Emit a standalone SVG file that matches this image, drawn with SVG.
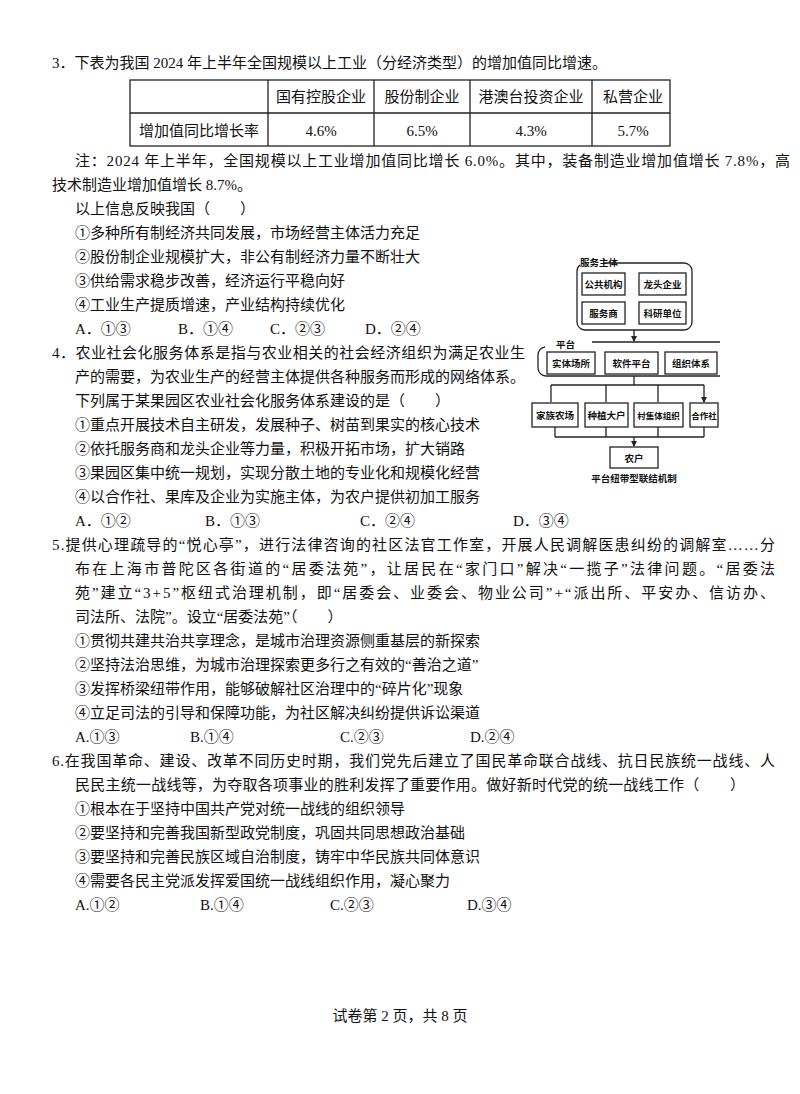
<svg xmlns="http://www.w3.org/2000/svg" width="800" height="1094" viewBox="0 0 800 1094">
<style>
text{font-family:"Liberation Serif","Noto Sans CJK SC",serif;font-size:15px;fill:#111}
.s{font-size:9.5px;font-weight:bold;font-family:"Noto Sans CJK SC",sans-serif}
.b{fill:none;stroke:#222;stroke-width:1.3}
.m{text-anchor:middle}
</style>
<defs><marker id="ar" viewBox="0 0 6 6" refX="5" refY="3" markerWidth="5" markerHeight="5" orient="auto"><path d="M0,0L6,3L0,6z" fill="#222"/></marker></defs>
<rect width="800" height="1094" fill="#fff"/>
<text x="52" y="68">3．下表为我国 2024 年上半年全国规模以上工业（分经济类型）的增加值同比增速。</text>
<g id="table">
<rect x="130" y="80" width="540" height="66" class="b"/>
<path d="M130,113H670M268,80V146M374,80V146M470,80V146M592,80V146" class="b"/>
<text x="321" y="102" class="m">国有控股企业</text><text x="422" y="102" class="m">股份制企业</text><text x="531" y="102" class="m">港澳台投资企业</text><text x="633" y="102" class="m">私营企业</text>
<text x="199" y="136" class="m">增加值同比增长率</text><text x="321" y="136" class="m">4.6%</text><text x="422" y="136" class="m">6.5%</text><text x="531" y="136" class="m">4.3%</text><text x="633" y="136" class="m">5.7%</text>
</g>
<text x="75" y="166" textLength="715">注：2024 年上半年，全国规模以上工业增加值同比增长 6.0%。其中，装备制造业增加值增长 7.8%，高</text>
<text x="52" y="190">技术制造业增加值增长 8.7%。</text>
<text x="75" y="214">以上信息反映我国（　　）</text>
<text x="75" y="238">①多种所有制经济共同发展，市场经营主体活力充足</text>
<text x="75" y="262">②股份制企业规模扩大，非公有制经济力量不断壮大</text>
<text x="75" y="286">③供给需求稳步改善，经济运行平稳向好</text>
<text x="75" y="310">④工业生产提质增速，产业结构持续优化</text>
<text x="75" y="334">A．①③</text><text x="178" y="334">B．①④</text><text x="270" y="334">C．②③</text><text x="365" y="334">D．②④</text>
<text x="52" y="358" textLength="473">4．农业社会化服务体系是指与农业相关的社会经济组织为满足农业生</text>
<text x="75" y="382" textLength="450">产的需要，为农业生产的经营主体提供各种服务而形成的网络体系。</text>
<text x="75" y="406">下列属于某果园区农业社会化服务体系建设的是（　　）</text>
<text x="75" y="430">①重点开展技术自主研发，发展种子、树苗到果实的核心技术</text>
<text x="75" y="454">②依托服务商和龙头企业等力量，积极开拓市场，扩大销路</text>
<text x="75" y="478">③果园区集中统一规划，实现分散土地的专业化和规模化经营</text>
<text x="75" y="502">④以合作社、果库及企业为实施主体，为农户提供初加工服务</text>
<text x="75" y="526">A．①②</text><text x="205" y="526">B．①③</text><text x="360" y="526">C．②④</text><text x="513" y="526">D．③④</text>
<g id="diagram">
<text x="580" y="266" class="s">服务主体</text>
<path d="M604,263H684a8,8 0 0 1 8,8V322a8,8 0 0 1-8,8H585a8,8 0 0 1-8-8V271a8,8 0 0 1 3-6" class="b"/>
<g id="n1"><rect x="582" y="273" width="43" height="22" class="b"/><text x="603.5" y="288" class="s m">公共机构</text></g>
<g id="n2"><rect x="639" y="273" width="47" height="22" class="b"/><text x="662.5" y="288" class="s m">龙头企业</text></g>
<g id="n3"><rect x="582" y="302" width="43" height="22" class="b"/><text x="603.5" y="317" class="s m">服务商</text></g>
<g id="n4"><rect x="639" y="302" width="47" height="22" class="b"/><text x="662.5" y="317" class="s m">科研单位</text></g>
<text x="556" y="348" class="s">平台</text>
<path d="M592,342H720M545,347a8,8 0 0 0-7,8V368a8,8 0 0 0 8,8H720" class="b"/>
<g id="n5"><rect x="547" y="352" width="48" height="22" class="b"/><text x="571" y="367" class="s m">实体场所</text></g>
<g id="n6"><rect x="605" y="352" width="53" height="22" class="b"/><text x="631.5" y="367" class="s m">软件平台</text></g>
<g id="n7"><rect x="665" y="352" width="52" height="22" class="b"/><text x="691" y="367" class="s m">组织体系</text></g>
<g id="n8"><rect x="532" y="403" width="46" height="24" class="b"/><text x="555" y="419" class="s m">家族农场</text></g>
<g id="n9"><rect x="585" y="403" width="43" height="24" class="b"/><text x="606.5" y="419" class="s m">种植大户</text></g>
<g id="n10"><rect x="634" y="403" width="49" height="24" class="b"/><text x="658.5" y="419" class="s m" style="font-size:8.5px">村集体组织</text></g>
<g id="n11"><rect x="690" y="403" width="28" height="24" class="b"/><text x="704" y="419" class="s m" style="font-size:8.5px">合作社</text></g>
<g id="n12"><rect x="610" y="447" width="48" height="21" class="b"/><text x="634" y="462" class="s m">农户</text></g>
<text x="634" y="482" class="s m">平台纽带型联结机制</text>
</g>
<g id="connectors" class="b">
<path d="M634,330V341" marker-end="url(#ar)"/>
<path d="M634,376V385M551,385H704"/>
<path d="M551,385V402M606,385V402M658,385V402M704,385V402" marker-end="url(#ar)"/>
<path d="M555,427V437M606,427V437M658,427V437M704,427V437M555,437H704"/>
<path d="M634,437V446" marker-end="url(#ar)"/>
</g>
<text x="52" y="550" textLength="723">5.提供心理疏导的“悦心亭”，进行法律咨询的社区法官工作室，开展人民调解医患纠纷的调解室……分</text>
<text x="75" y="574" textLength="700">布在上海市普陀区各街道的“居委法苑”，让居民在“家门口”解决“一揽子”法律问题。“居委法</text>
<text x="75" y="598" textLength="700">苑”建立“3+5”枢纽式治理机制，即“居委会、业委会、物业公司”+“派出所、平安办、信访办、</text>
<text x="75" y="622">司法所、法院”。设立“居委法苑”（　　）</text>
<text x="75" y="646">①贯彻共建共治共享理念，是城市治理资源侧重基层的新探索</text>
<text x="75" y="670">②坚持法治思维，为城市治理探索更多行之有效的“善治之道”</text>
<text x="75" y="694">③发挥桥梁纽带作用，能够破解社区治理中的“碎片化”现象</text>
<text x="75" y="718">④立足司法的引导和保障功能，为社区解决纠纷提供诉讼渠道</text>
<text x="75" y="742">A.①③</text><text x="190" y="742">B.①④</text><text x="340" y="742">C.②③</text><text x="470" y="742">D.②④</text>
<text x="52" y="766" textLength="723">6.在我国革命、建设、改革不同历史时期，我们党先后建立了国民革命联合战线、抗日民族统一战线、人</text>
<text x="75" y="790" textLength="670">民民主统一战线等，为夺取各项事业的胜利发挥了重要作用。做好新时代党的统一战线工作（　　）</text>
<text x="75" y="814">①根本在于坚持中国共产党对统一战线的组织领导</text>
<text x="75" y="838">②要坚持和完善我国新型政党制度，巩固共同思想政治基础</text>
<text x="75" y="862">③要坚持和完善民族区域自治制度，铸牢中华民族共同体意识</text>
<text x="75" y="886">④需要各民主党派发挥爱国统一战线组织作用，凝心聚力</text>
<text x="75" y="910">A.①②</text><text x="200" y="910">B.①④</text><text x="330" y="910">C.②③</text><text x="467" y="910">D.③④</text>
<text x="400" y="1021" class="m">试卷第 2 页，共 8 页</text>
</svg>
